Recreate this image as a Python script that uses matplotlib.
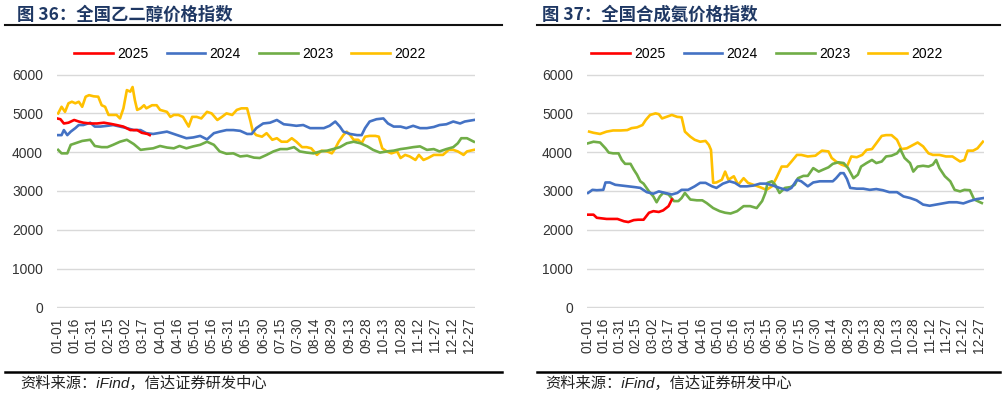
#!/usr/bin/env python
# -*- coding: utf-8 -*-

import pandas as pd
import matplotlib
matplotlib.use("Agg")
import matplotlib.pyplot as plt
from matplotlib.lines import Line2D


############################################
# DATA (day of year, index value)
############################################

tick_labels = ['01-01', '01-16', '01-31', '02-15', '03-02', '03-17', '04-01', '04-16',
               '05-01', '05-16', '05-31', '06-15', '06-30', '07-15', '07-30', '08-14',
               '08-29', '09-13', '09-28', '10-13', '10-28', '11-12', '11-27', '12-12',
               '12-27']
years = ['2025', '2024', '2023', '2022']
colors = ['#FF0000', '#4472C4', '#70AD47', '#FFC000']

# 全国乙二醇价格指数
meg_2025 = [(0, 4870), (3, 4850), (6, 4740), (10, 4760), (15, 4830), (19, 4790), (23, 4760),
            (29, 4740), (35, 4740), (41, 4760), (47, 4730), (52, 4700), (58, 4660), (64, 4570),
            (70, 4570), (74, 4500), (79, 4470), (81, 4440)]

meg_2024 = [(1, 4440), (4, 4440), (6, 4570), (9, 4440), (12, 4530), (16, 4620), (19, 4700),
            (23, 4700), (29, 4760), (33, 4660), (38, 4660), (44, 4680), (49, 4700), (55, 4660),
            (61, 4620), (67, 4570), (73, 4570), (78, 4490), (84, 4470), (90, 4500), (96, 4530),
            (102, 4470), (107, 4420), (113, 4360), (119, 4380), (125, 4420), (131, 4330),
            (137, 4490), (142, 4530), (148, 4570), (154, 4570), (160, 4550), (166, 4470),
            (170, 4470), (174, 4620), (180, 4740), (186, 4760), (192, 4830), (198, 4720),
            (204, 4700), (209, 4680), (215, 4700), (221, 4620), (227, 4620), (233, 4620),
            (238, 4680), (243, 4790), (247, 4660), (250, 4530), (256, 4470), (262, 4440),
            (266, 4440), (269, 4620), (273, 4790), (279, 4850), (285, 4870), (289, 4740),
            (294, 4660), (300, 4660), (305, 4620), (311, 4680), (317, 4620), (323, 4620),
            (329, 4650), (334, 4700), (340, 4720), (346, 4790), (352, 4740), (356, 4790),
            (364, 4830)]

meg_2023 = [(1, 4060), (4, 3970), (9, 3970), (12, 4190), (16, 4230), (22, 4290), (29, 4320),
            (33, 4160), (39, 4130), (44, 4130), (49, 4190), (55, 4270), (61, 4320), (67, 4210),
            (73, 4060), (78, 4080), (84, 4100), (90, 4160), (96, 4120), (102, 4100), (107, 4160),
            (113, 4100), (119, 4150), (125, 4190), (131, 4270), (137, 4190), (142, 4020),
            (148, 3960), (154, 3970), (160, 3890), (166, 3910), (172, 3860), (177, 3850),
            (183, 3930), (189, 4020), (195, 4080), (201, 4080), (207, 4130), (212, 4020),
            (218, 3990), (224, 3970), (230, 4020), (236, 4040), (241, 4080), (247, 4130),
            (253, 4230), (259, 4270), (265, 4230), (271, 4150), (276, 4060), (282, 3990),
            (288, 4020), (294, 4040), (300, 4080), (305, 4100), (311, 4130), (317, 4150),
            (323, 4060), (329, 4080), (334, 4020), (340, 4080), (346, 4130), (350, 4230),
            (353, 4360), (358, 4360), (364, 4270)]

meg_2022 = [(1, 5000), (4, 5170), (7, 5040), (10, 5260), (13, 5300), (16, 5260), (19, 5300),
            (22, 5170), (25, 5430), (28, 5470), (32, 5440), (36, 5430), (39, 5210), (42, 5170),
            (45, 4960), (49, 4960), (52, 4960), (55, 4870), (58, 5130), (61, 5600), (64, 5560),
            (66, 5680), (68, 5340), (70, 5090), (73, 5130), (76, 5210), (78, 5130), (83, 5210),
            (87, 5210), (90, 5090), (96, 5040), (99, 4910), (102, 4960), (106, 4960), (110, 4910),
            (115, 4660), (118, 4910), (122, 4910), (126, 4870), (131, 5040), (135, 5000),
            (140, 4830), (144, 4910), (148, 5000), (153, 4960), (157, 5090), (161, 5130),
            (166, 5130), (169, 4790), (171, 4530), (174, 4440), (179, 4400), (183, 4490),
            (188, 4320), (192, 4360), (196, 4270), (201, 4270), (205, 4360), (209, 4270),
            (214, 4130), (218, 4130), (222, 4100), (227, 3930), (231, 4040), (236, 4020),
            (240, 3970), (243, 4100), (246, 4270), (250, 4440), (253, 4530), (256, 4440),
            (259, 4320), (263, 4320), (266, 4230), (269, 4400), (273, 4420), (278, 4420),
            (281, 4400), (284, 4100), (288, 4020), (292, 3970), (297, 4020), (300, 3850),
            (304, 3930), (308, 3890), (313, 3800), (316, 3930), (320, 3800), (324, 3850),
            (329, 3930), (333, 3930), (337, 3930), (342, 4060), (346, 4060), (350, 4020),
            (355, 3930), (358, 4020), (364, 4060)]

# 全国合成氨价格指数
nh3_2025 = [(0, 2390), (6, 2390), (9, 2310), (18, 2280), (28, 2280), (34, 2220), (38, 2200),
            (43, 2250), (47, 2260), (52, 2260), (57, 2440), (61, 2480), (66, 2460), (70, 2500),
            (75, 2610), (78, 2780)]

nh3_2024 = [(1, 2950), (5, 3030), (9, 3020), (15, 3030), (17, 3220), (21, 3220), (26, 3160),
            (32, 3140), (38, 3120), (44, 3100), (49, 3080), (55, 2970), (61, 2930), (66, 2990),
            (72, 2950), (78, 2910), (83, 2950), (87, 3030), (93, 3030), (99, 3120), (104, 3210),
            (109, 3210), (115, 3120), (119, 3080), (125, 3190), (131, 3250), (136, 3210),
            (141, 3120), (147, 3120), (153, 3140), (159, 3190), (165, 3190), (171, 3140),
            (177, 3080), (184, 3020), (188, 3080), (193, 3290), (197, 3250), (203, 3120),
            (208, 3220), (214, 3250), (220, 3250), (226, 3250), (229, 3330), (233, 3460),
            (236, 3460), (239, 3310), (242, 3080), (248, 3060), (254, 3060), (260, 3030),
            (266, 3050), (272, 3020), (278, 2970), (285, 2970), (291, 2860), (297, 2820),
            (303, 2760), (309, 2650), (315, 2620), (321, 2650), (327, 2680), (333, 2710),
            (340, 2710), (346, 2680), (352, 2740), (358, 2790), (365, 2820)]

nh3_2023 = [(1, 4230), (6, 4270), (12, 4250), (17, 4100), (20, 3990), (24, 3970), (29, 3970),
            (32, 3800), (35, 3700), (40, 3700), (43, 3550), (46, 3420), (49, 3250), (52, 3190),
            (57, 2990), (61, 2860), (64, 2710), (67, 2860), (70, 2950), (75, 2910), (80, 2740),
            (84, 2740), (87, 2820), (90, 2950), (95, 2780), (101, 2760), (106, 2760), (110, 2690),
            (116, 2560), (122, 2480), (127, 2440), (132, 2420), (138, 2480), (144, 2610),
            (150, 2610), (156, 2560), (161, 2740), (164, 2950), (166, 3210), (170, 3250),
            (173, 3160), (177, 2950), (182, 3080), (187, 3100), (191, 3160), (194, 3330),
            (199, 3390), (203, 3390), (208, 3590), (213, 3500), (217, 3550), (222, 3610),
            (226, 3700), (231, 3740), (236, 3720), (240, 3590), (245, 3330), (249, 3420),
            (252, 3630), (257, 3720), (262, 3800), (266, 3720), (271, 3760), (275, 3890),
            (280, 3910), (285, 3970), (288, 4080), (292, 3850), (297, 3720), (300, 3500),
            (304, 3630), (309, 3650), (314, 3630), (318, 3680), (321, 3800), (324, 3590),
            (329, 3380), (334, 3250), (338, 3030), (343, 2990), (347, 3030), (352, 3020),
            (356, 2780), (363, 2690)]

nh3_2022 = [(2, 4530), (6, 4500), (12, 4470), (18, 4530), (24, 4560), (31, 4560), (37, 4570),
            (41, 4620), (46, 4640), (51, 4700), (54, 4830), (58, 4960), (63, 5000), (66, 4980),
            (69, 4870), (73, 4910), (78, 4960), (83, 4910), (87, 4900), (90, 4530), (95, 4400),
            (99, 4320), (104, 4270), (109, 4290), (112, 4190), (114, 4060), (116, 3210),
            (119, 3220), (124, 3290), (127, 3500), (130, 3290), (135, 3380), (139, 3160),
            (144, 3330), (148, 3210), (153, 3160), (159, 3100), (165, 3030), (170, 3120),
            (174, 3330), (179, 3630), (184, 3630), (188, 3760), (193, 3930), (197, 3930),
            (203, 3890), (210, 3910), (216, 4040), (222, 4020), (225, 3850), (229, 3760),
            (234, 3680), (239, 3630), (243, 3890), (248, 3870), (253, 3930), (257, 4060),
            (262, 4080), (266, 4230), (271, 4420), (275, 4440), (280, 4440), (285, 4320),
            (289, 4080), (294, 4100), (298, 4160), (304, 4250), (309, 4150), (314, 3970),
            (318, 3930), (324, 3930), (330, 3890), (336, 3890), (343, 3760), (347, 3800),
            (350, 4040), (355, 4040), (359, 4100), (364, 4270)]


############################################
# PLOTTING
############################################

def draw_panel(ax, series):
    """
    Draw one yearly comparison panel: one line per year, light grid, no frame.
    """
    # draw older years first so the current year sits on top
    for name, color, points in reversed(list(zip(years, colors, series))):
        days = [p[0] for p in points]
        vals = [p[1] for p in points]
        ax.plot(days, vals, color=color, lw=1.9, label=name, solid_joinstyle='round')

    tick_days = [pd.Timestamp('2023-' + t).dayofyear - 1 for t in tick_labels]
    ax.set_xlim(0, 365)
    ax.set_ylim(-15, 6015)
    ax.set_xticks(tick_days)
    ax.set_xticklabels(tick_labels, rotation=90)
    ax.set_yticks([0, 1000, 2000, 3000, 4000, 5000, 6000])
    ax.tick_params(axis='both', length=0, labelsize=10, colors='#333333')
    ax.tick_params(axis='x', pad=7)
    ax.tick_params(axis='y', pad=10)
    ax.grid(axis='y', color='#d9d9d9', lw=1.0)
    ax.set_axisbelow(True)
    for side in ax.spines.values():
        side.set_visible(False)


if __name__ == "__main__":
    plt.rcParams['font.family'] = ['Liberation Sans', 'Noto Sans CJK SC', 'DejaVu Sans']

    fig = plt.figure(figsize=(10.06, 3.96), dpi=100)
    W, H = 1006.0, 396.0

    panels = [
        (57, '图 36：全国乙二醇价格指数', [meg_2025, meg_2024, meg_2023, meg_2022], 17, 5, 502, 250),
        (587, '图 37：全国合成氨价格指数', [nh3_2025, nh3_2024, nh3_2023, nh3_2022], 542, 537, 1000, 767),
    ]
    widths = {57: 418, 587: 397}

    for left, title, series, tx, lx0, lx1, legx in panels:
        ax = fig.add_axes([left / W, (H - 308) / H, widths[left] / W, 234 / H])
        draw_panel(ax, series)

        handles, labels = ax.get_legend_handles_labels()
        fig.legend(handles[::-1], labels[::-1], loc='center', ncol=4,
                   bbox_to_anchor=(legx / W, 1 - 54 / H), frameon=False,
                   fontsize=10, handlelength=2.8, handletextpad=0.3, columnspacing=1.3)

        fig.text(tx / W, 1 - 15 / H, title, fontsize=12.5, weight='bold', color='#1f3864',
                 va='center', ha='left', family=['Noto Sans CJK SC', 'DejaVu Sans'])
        fig.add_artist(Line2D([lx0 / W, lx1 / W], [1 - 25 / H, 1 - 25 / H],
                              transform=fig.transFigure, color='#111111', lw=1.5))
        fig.add_artist(Line2D([lx0 / W, lx1 / W], [1 - 372 / H, 1 - 372 / H],
                              transform=fig.transFigure, color='#000000', lw=1.8))
        fig.text((tx + 3) / W, 1 - 383 / H, '资料来源：iFind，信达证券研发中心', fontsize=11,
                 style='italic', va='center', ha='left', color='#222222',
                 family=['Liberation Sans', 'Noto Sans CJK SC'])

    fig.savefig('out.png', dpi=100)
